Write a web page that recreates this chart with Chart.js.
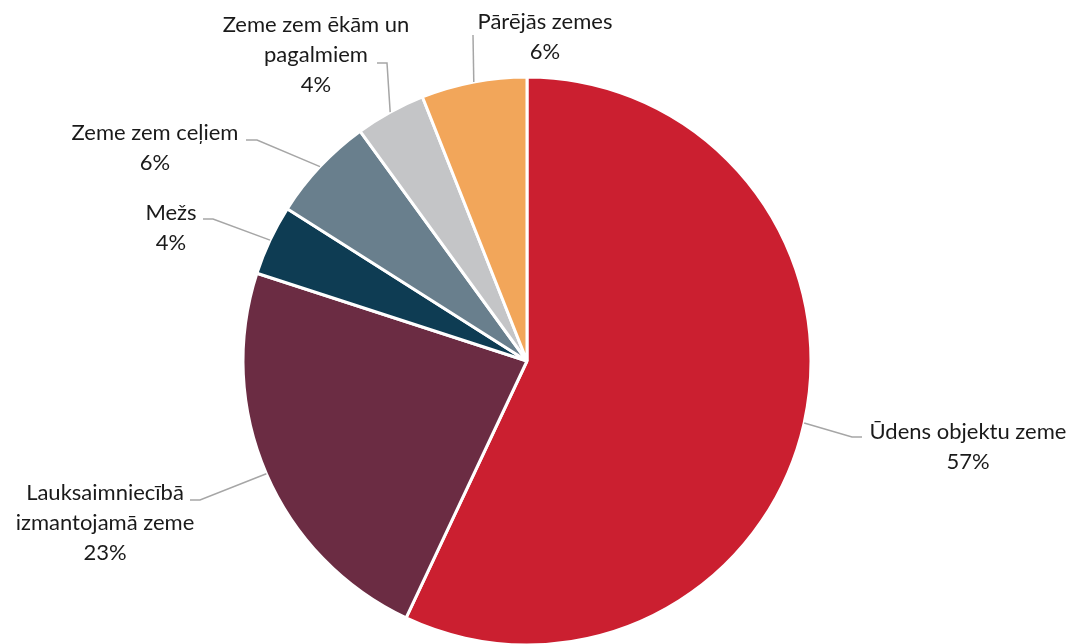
<!DOCTYPE html>
<html>
<head>
<meta charset="utf-8">
<script src="https://cdn.jsdelivr.net/npm/chart.js@4"></script>
<style>
  html, body { margin: 0; padding: 0; background: #fff; overflow: hidden; }
  #wrap { width: 1074px; height: 644px; }
</style>
</head>
<body>
<div id="wrap"><canvas id="chart" width="1074" height="644"></canvas></div>
<script>
// Land use shares, clockwise from 12 o'clock
const CATEGORIES = [
  ["Ūdens objektu zeme"],
  ["Lauksaimniecībā", "izmantojamā zeme"],
  ["Mežs"],
  ["Zeme zem ceļiem"],
  ["Zeme zem ēkām un", "pagalmiem"],
  ["Pārējās zemes"]
]
const VALUES = [57, 23, 4, 6, 4, 6]
const COLORS = ["#CB1F30", "#6B2C43", "#0E3C53", "#697F8D", "#C4C5C7", "#F2A65A"]

const LEADER_COLOR = "#A6A6A6"
const TEXT_COLOR = "#1A1A1A"
const FONT = "22px Lato, 'Noto Sans', sans-serif"
const LINE_HEIGHT = 30

// Manual label placement (like Excel's dragged labels), relative to the pie
// centre: elbow and end of the leader line, and the centre of the first text line.
const LABEL_LAYOUT = [
  { elbow: [325, 76], end: [335, 76], text: [441, 71] },
  { elbow: [-327, 139], end: [-337, 139], text: [-422, 132] },
  { elbow: [-314, -142], end: [-324, -142], text: [-356, -148] },
  { elbow: [-270, -221], end: [-281, -221], text: [-372, -228] },
  { elbow: [-140, -298], end: [-150, -298], text: [-211, -336] },
  { elbow: [-54, -326], end: [-54, -326], text: [18, -339] }
]

const outsideLabels = {
  id: "outsideLabels",
  afterDatasetsDraw(chart) {
    const { ctx } = chart
    const arcs = chart.getDatasetMeta(0).data
    ctx.save()
    arcs.forEach((arc, i) => {
      const mid = (arc.startAngle + arc.endAngle) / 2
      const ex = arc.x + Math.cos(mid) * arc.outerRadius
      const ey = arc.y + Math.sin(mid) * arc.outerRadius
      const lay = LABEL_LAYOUT[i]
      ctx.strokeStyle = LEADER_COLOR
      ctx.lineWidth = 1.5
      ctx.beginPath()
      ctx.moveTo(ex, ey)
      ctx.lineTo(arc.x + lay.elbow[0], arc.y + lay.elbow[1])
      ctx.lineTo(arc.x + lay.end[0], arc.y + lay.end[1])
      ctx.stroke()

      const lines = CATEGORIES[i].concat([VALUES[i] + "%"])
      ctx.fillStyle = TEXT_COLOR
      ctx.font = FONT
      ctx.textAlign = "center"
      ctx.textBaseline = "middle"
      lines.forEach((t, k) => {
        ctx.fillText(t, arc.x + lay.text[0], arc.y + lay.text[1] + k * LINE_HEIGHT)
      })
    })
    ctx.restore()
  }
}

new Chart(document.getElementById("chart"), {
  type: "pie",
  plugins: [outsideLabels],
  data: {
    labels: CATEGORIES.map((c) => c.join(" ")),
    datasets: [
      {
        data: VALUES,
        backgroundColor: COLORS,
        borderColor: "#fff",
        borderWidth: 3,
        clip: false
      }
    ]
  },
  options: {
    responsive: false,
    animation: false,
    radius: 284,
    layout: { padding: { top: 78, right: 20, bottom: 0, left: 0 } },
    plugins: {
      legend: { display: false },
      tooltip: { enabled: false }
    }
  }
})
</script>
</body>
</html>
